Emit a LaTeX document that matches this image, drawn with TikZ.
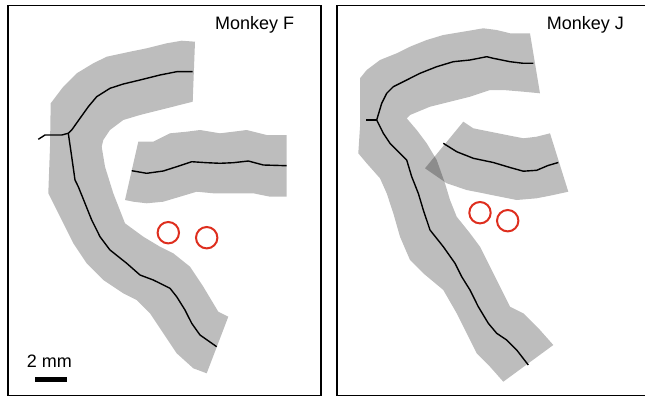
\documentclass[tikz,border=0pt]{standalone}
\usepackage{fontspec}
\setmainfont{Liberation Sans}
\usepackage{xcolor}
\definecolor{sitered}{RGB}{222,46,30}
\usetikzlibrary{positioning}

\begin{document}
\begin{tikzpicture}[x=1pt,y=-1pt,
        band/.style={fill=black,fill opacity=0.26},
        axon/.style={line width=1.4pt,line join=round},
        site/.style={draw=sitered,line width=2pt},
        panel/.style={line width=1.8pt},
        lbl/.style={font=\fontsize{18}{20}\selectfont,inner sep=0pt,anchor=base west}]
        \clip (0,0) rectangle (645,396);
        %\draw[help lines] (0,0) grid (645,396);
        \draw[panel] (8,5.5) rectangle (321,396);
        \draw[panel] (336.7,5.5) rectangle (660,396);
        % Monkey F
        \fill[band] (195,41.7) -- (192.7,101.7) -- (166.7,108.3) -- (140,115) -- (123.3,120) -- (110,130) -- (103.3,140) -- (101.7,146.7) -- (105,166.7) -- (113.3,193.3) -- (125,223.3) -- (143.3,236.7) -- (160,246.7) -- (173.3,253.3) -- (190,266.7) -- (203.3,286.7) -- (218.3,311.7) -- (228.3,316.7) -- (206.7,373.3) -- (193.3,368.3) -- (176.7,353.3) -- (163.3,333.3) -- (150,313.3) -- (136.7,300) -- (123.3,293.3) -- (103.3,280) -- (86.7,263.3) -- (73.3,243.3) -- (60,216.7) -- (48.3,193.3) -- (50,146.7) -- (50.7,103.3) -- (63.3,86.7) -- (76.7,73.3) -- (93.3,63.3) -- (106.7,56.7) -- (130,51.7) -- (146.7,48.3) -- (166.7,43.3) -- (181.7,40.7) -- cycle;
        \fill[band] (138.3,141.7) -- (153.3,141.7) -- (170,133.3) -- (186.7,131.7) -- (200,130) -- (220,133.3) -- (233.3,131.7) -- (246.7,130) -- (266.7,135) -- (286.7,135) -- (286.7,196.7) -- (270,196.7) -- (253.3,193.3) -- (233.3,193.3) -- (213.3,193.3) -- (196.7,191.7) -- (180,196.7) -- (163.3,201.7) -- (146.7,203.3) -- (133.3,201.7) -- (125,200) -- cycle;
        \coordinate (jF) at (68.3,133.3);
        \draw[axon] (192.7,71.7) -- (176.7,71.7) -- (160,75) -- (140,80) -- (123.3,84) -- (110,88.3) -- (96.7,96.7) -- (88.3,106.7) -- (80,118.3) -- (71.7,130) -- (jF) -- (71.7,156.7) -- (75,180) -- (78.3,186.7) -- (85,203.3) -- (91.7,220) -- (100,236.7) -- (110,250) -- (126.7,263.3) -- (140,275) -- (153.3,280) -- (170,288.3) -- (176.7,296.7) -- (185,310) -- (191.7,323.3) -- (200,335) -- (216.7,346.7);
        \draw[axon] (jF) -- (61.7,135) -- (45,135) -- (38.3,139.3);
        \draw[axon] (131.7,170.7) -- (146.7,173.3) -- (163.3,171) -- (176.7,166.7) -- (191.7,161.7) -- (206.7,162.7) -- (220,163.3) -- (233.3,162.7) -- (248.3,161) -- (263.3,165) -- (286.7,165.7);
        \draw[site] (168.3,232.7) circle[radius=10.7];
        \draw[site] (206.7,237.7) circle[radius=10.7];
        \node[lbl] (monkF) at (215,30) {Monkey F};
        \node[lbl] (barlbl) at (26.7,367.3) {2 mm};
        \fill (35,376.7) rectangle (66.7,381.7);
        % Monkey J
        \fill[band] (530,33.3) -- (540,93.3) -- (523.3,91.7) -- (503.3,90) -- (490,90) -- (470,96.7) -- (450,101.7) -- (430,106.7) -- (410,115) -- (406.7,118.3) -- (416.7,130) -- (426.7,143.3) -- (436.7,160) -- (445,183.3) -- (450,200) -- (456.7,216.7) -- (470,233.3) -- (480,246.7) -- (490,266.7) -- (500,286.7) -- (510,306.7) -- (523.3,313.3) -- (540,330) -- (553.3,345) -- (503.3,381.7) -- (490,366.7) -- (476.7,353.3) -- (466.7,333.3) -- (456.7,313.3) -- (443.3,290) -- (423.3,273.3) -- (410,260) -- (400,236.7) -- (393.3,213.3) -- (386.7,193.3) -- (380,178.3) -- (366.7,163.3) -- (358.3,153.3) -- (360,126.7) -- (360,78.3) -- (366.7,70) -- (380,60) -- (396.7,53.3) -- (410,46.7) -- (426.7,40) -- (443.3,35) -- (463.3,31.7) -- (483.3,28.3) -- (496.7,30) -- (510,33.3) -- cycle;
        \fill[band] (463.3,121.7) -- (473.3,128.3) -- (490,131.7) -- (506.7,135) -- (523.3,138.3) -- (536.7,136.7) -- (550,133.3) -- (568.3,191.7) -- (553.3,195) -- (536.7,198.3) -- (516.7,200) -- (500,196.7) -- (483.3,193.3) -- (466.7,190) -- (446.7,183.3) -- (425,168.3) -- cycle;
        \coordinate (jJ) at (376.7,120);
        \draw[axon] (533.3,63.3) -- (523.3,63.3) -- (510,61.7) -- (493.3,58.3) -- (486.7,56.7) -- (470,60) -- (453.3,61.7) -- (436.7,66.7) -- (420,73.3) -- (406.7,80) -- (393.3,86.7) -- (386.7,93.3) -- (381.7,103.3) -- (jJ) -- (383.3,133.3) -- (390,143.3) -- (400,153.3) -- (406.7,160) -- (411.7,176.7) -- (418.3,193.3) -- (423.3,210) -- (430,230) -- (443.3,246.7) -- (455,263.3) -- (461.7,276.7) -- (470,290) -- (478.3,306.7) -- (488.3,323.3) -- (496.7,333.3) -- (506.7,340) -- (516.7,350) -- (528.3,365);
        \draw[axon] (jJ) -- (366,120);
        \draw[axon] (443.3,143.3) -- (456.7,151.7) -- (473.3,158.3) -- (493.3,162.5) -- (510,167.5) -- (523.3,171.2) -- (536.7,170.3) -- (548,165.5) -- (558.3,162.5);
        \draw[site] (480,212.7) circle[radius=10.7];
        \draw[site] (507.7,220.7) circle[radius=10.7];
        \node[lbl] (monkJ) at (546.7,30) {Monkey J};
      \end{tikzpicture}
\end{document}
